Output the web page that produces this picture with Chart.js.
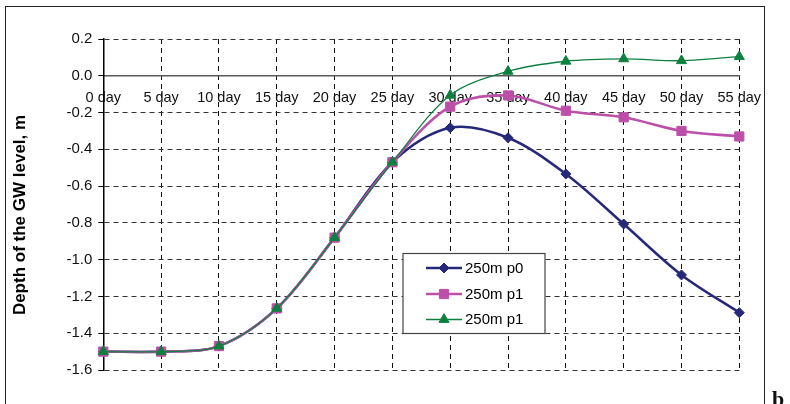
<!DOCTYPE html>
<html>
<head>
<meta charset="utf-8">
<script src="https://cdn.jsdelivr.net/npm/chart.js@4/dist/chart.umd.min.js"></script>
<style>
  html, body { margin: 0; padding: 0; background: #fff; overflow: hidden; }
  #wrap { position: relative; width: 790px; height: 404px; overflow: hidden; }
  #c { position: absolute; left: 0; top: 0; }
  #frame { position: absolute; left: 5px; top: 6px; width: 758px; height: 460px;
           border: 1.5px solid #222; pointer-events: none; }
  #tag { position: absolute; left: 772px; top: 388px; font: bold 22px/1 "Liberation Serif", "DejaVu Serif", serif; color: #111; }
</style>
</head>
<body>
<div id="wrap">
  <canvas id="c" width="790" height="404"></canvas>
  <div id="frame"></div>
  <div id="tag">b</div>
</div>
<script>
// Days of the simulation
const days = [0, 5, 10, 15, 20, 25, 30, 35, 40, 45, 50, 55];

// Depth of the ground-water level (m) for each series
const p0 = [-1.50, -1.50, -1.47, -1.265, -0.88, -0.47, -0.283, -0.337, -0.534, -0.806, -1.083, -1.288];
const p1a = [-1.50, -1.50, -1.47, -1.265, -0.88, -0.47, -0.168, -0.107, -0.190, -0.226, -0.300, -0.330];
const p1b = [-1.50, -1.50, -1.47, -1.265, -0.88, -0.47, -0.106, 0.024, 0.079, 0.092, 0.082, 0.104];

const seriesNames = ['250m p0', '250m p1', '250m p1'];
const yTicks = { min: -1.6, max: 0.2, step: 0.2 };
const xTicks = { min: 0, max: 55, step: 5 };

const FONT = '"Liberation Sans", Arial, sans-serif';
const NAVY = '#26297A';
const MAGENTA = '#BC50A8';
const GREEN = '#0D8040';

const toPoints = vals => days.map((d, i) => ({ x: d, y: vals[i] }));

// Draws a marker shape (same geometry as Chart.js point styles)
function marker(ctx, style, r, x, y, color) {
  ctx.save();
  ctx.fillStyle = color;
  ctx.strokeStyle = color;
  ctx.lineWidth = 1;
  ctx.beginPath();
  if (style === 'rectRot') {
    ctx.moveTo(x, y - r); ctx.lineTo(x + r, y); ctx.lineTo(x, y + r); ctx.lineTo(x - r, y);
  } else if (style === 'rect') {
    const s = r * Math.SQRT1_2;
    ctx.rect(x - s, y - s, 2 * s, 2 * s);
  } else {
    ctx.moveTo(x, y - r);
    ctx.lineTo(x + r * Math.sin(2 * Math.PI / 3), y - r * Math.cos(2 * Math.PI / 3));
    ctx.lineTo(x + r * Math.sin(4 * Math.PI / 3), y - r * Math.cos(4 * Math.PI / 3));
  }
  ctx.closePath();
  ctx.fill();
  ctx.stroke();
  ctx.restore();
}

// Boxed legend inside the plot plus the rotated axis title
const decorations = {
  id: 'decorations',
  afterDraw(chart) {
    const ctx = chart.ctx;
    // axis title
    ctx.save();
    ctx.translate(20.5, 215);
    ctx.rotate(-Math.PI / 2);
    ctx.font = 'bold 17px ' + FONT;
    ctx.fillStyle = '#000';
    ctx.textAlign = 'center';
    ctx.textBaseline = 'middle';
    ctx.fillText('Depth of the GW level, m', 0, 0);
    ctx.restore();

    // legend box
    const bx = 403, by = 253.5, bw = 142, bh = 80;
    ctx.save();
    ctx.fillStyle = '#fff';
    ctx.fillRect(bx, by, bw, bh);
    ctx.strokeStyle = '#444';
    ctx.lineWidth = 1.2;
    ctx.strokeRect(bx, by, bw, bh);
    ctx.font = '15px ' + FONT;
    ctx.textBaseline = 'middle';
    ctx.textAlign = 'left';
    const rows = [268, 294, 319.5];
    chart.data.datasets.forEach((ds, i) => {
      const yy = rows[i];
      ctx.strokeStyle = ds.borderColor;
      ctx.lineWidth = ds.borderWidth;
      ctx.beginPath();
      ctx.moveTo(426, yy);
      ctx.lineTo(462, yy);
      ctx.stroke();
      marker(ctx, ds.pointStyle, ds.pointRadius, 444, yy, ds.backgroundColor);
      ctx.fillStyle = '#000';
      ctx.fillText(ds.label, 465, yy + 0.5);
    });
    ctx.restore();
  }
};

const zeroTransparent = (c, col) => (c.tick && Math.abs(c.tick.value) < 1e-9) ? 'rgba(0,0,0,0)' : col;

new Chart(document.getElementById('c'), {
  type: 'line',
  data: {
    datasets: [
      { label: seriesNames[0], data: toPoints(p0), borderColor: NAVY, backgroundColor: NAVY,
        borderWidth: 2.5, pointStyle: 'rectRot', pointRadius: 5, pointBorderWidth: 1,
        pointBorderColor: NAVY, tension: 0.33, clip: false, order: 2 },
      { label: seriesNames[1], data: toPoints(p1a), borderColor: MAGENTA, backgroundColor: MAGENTA,
        borderWidth: 2.6, pointStyle: 'rect', pointRadius: 6.5, pointBorderWidth: 1,
        pointBorderColor: MAGENTA, tension: 0.33, clip: false, order: 1 },
      { label: seriesNames[2], data: toPoints(p1b), borderColor: GREEN, backgroundColor: GREEN,
        borderWidth: 1.3, pointStyle: 'triangle', pointRadius: 5.8, pointBorderWidth: 1,
        pointBorderColor: GREEN, tension: 0.33, clip: false, order: 0 }
    ]
  },
  options: {
    responsive: false,
    animation: false,
    events: [],
    layout: { padding: { left: 0, top: 39, right: 50.7, bottom: 34 } },
    plugins: { legend: { display: false }, tooltip: { enabled: false } },
    scales: {
      x: {
        type: 'linear',
        position: { y: 0 },
        min: xTicks.min, max: xTicks.max,
        ticks: { stepSize: xTicks.step, autoSkip: false, maxRotation: 0, padding: 13.5,
                 color: '#111', font: { family: FONT, size: 14.5 },
                 callback: v => v + ' day' },
        grid: { color: c => zeroTransparent(c, '#111'), lineWidth: 1, drawTicks: false },
        border: { display: true, color: '#5a5a5a', width: 1.6, dash: [5, 4] }
      },
      y: {
        min: yTicks.min, max: yTicks.max,
        ticks: { stepSize: yTicks.step, padding: 6, color: '#111',
                 font: { family: FONT, size: 15 },
                 callback: v => v.toFixed(1) },
        grid: { color: c => zeroTransparent(c, '#333'), lineWidth: 1, drawTicks: true,
                tickLength: 5, tickColor: '#000', tickWidth: 1 },
        border: { display: true, color: '#000', width: 1.5, dash: [5, 4] },
        afterFit: s => { s.width = 103.3; }
      }
    }
  },
  plugins: [decorations]
});
</script>
</body>
</html>
